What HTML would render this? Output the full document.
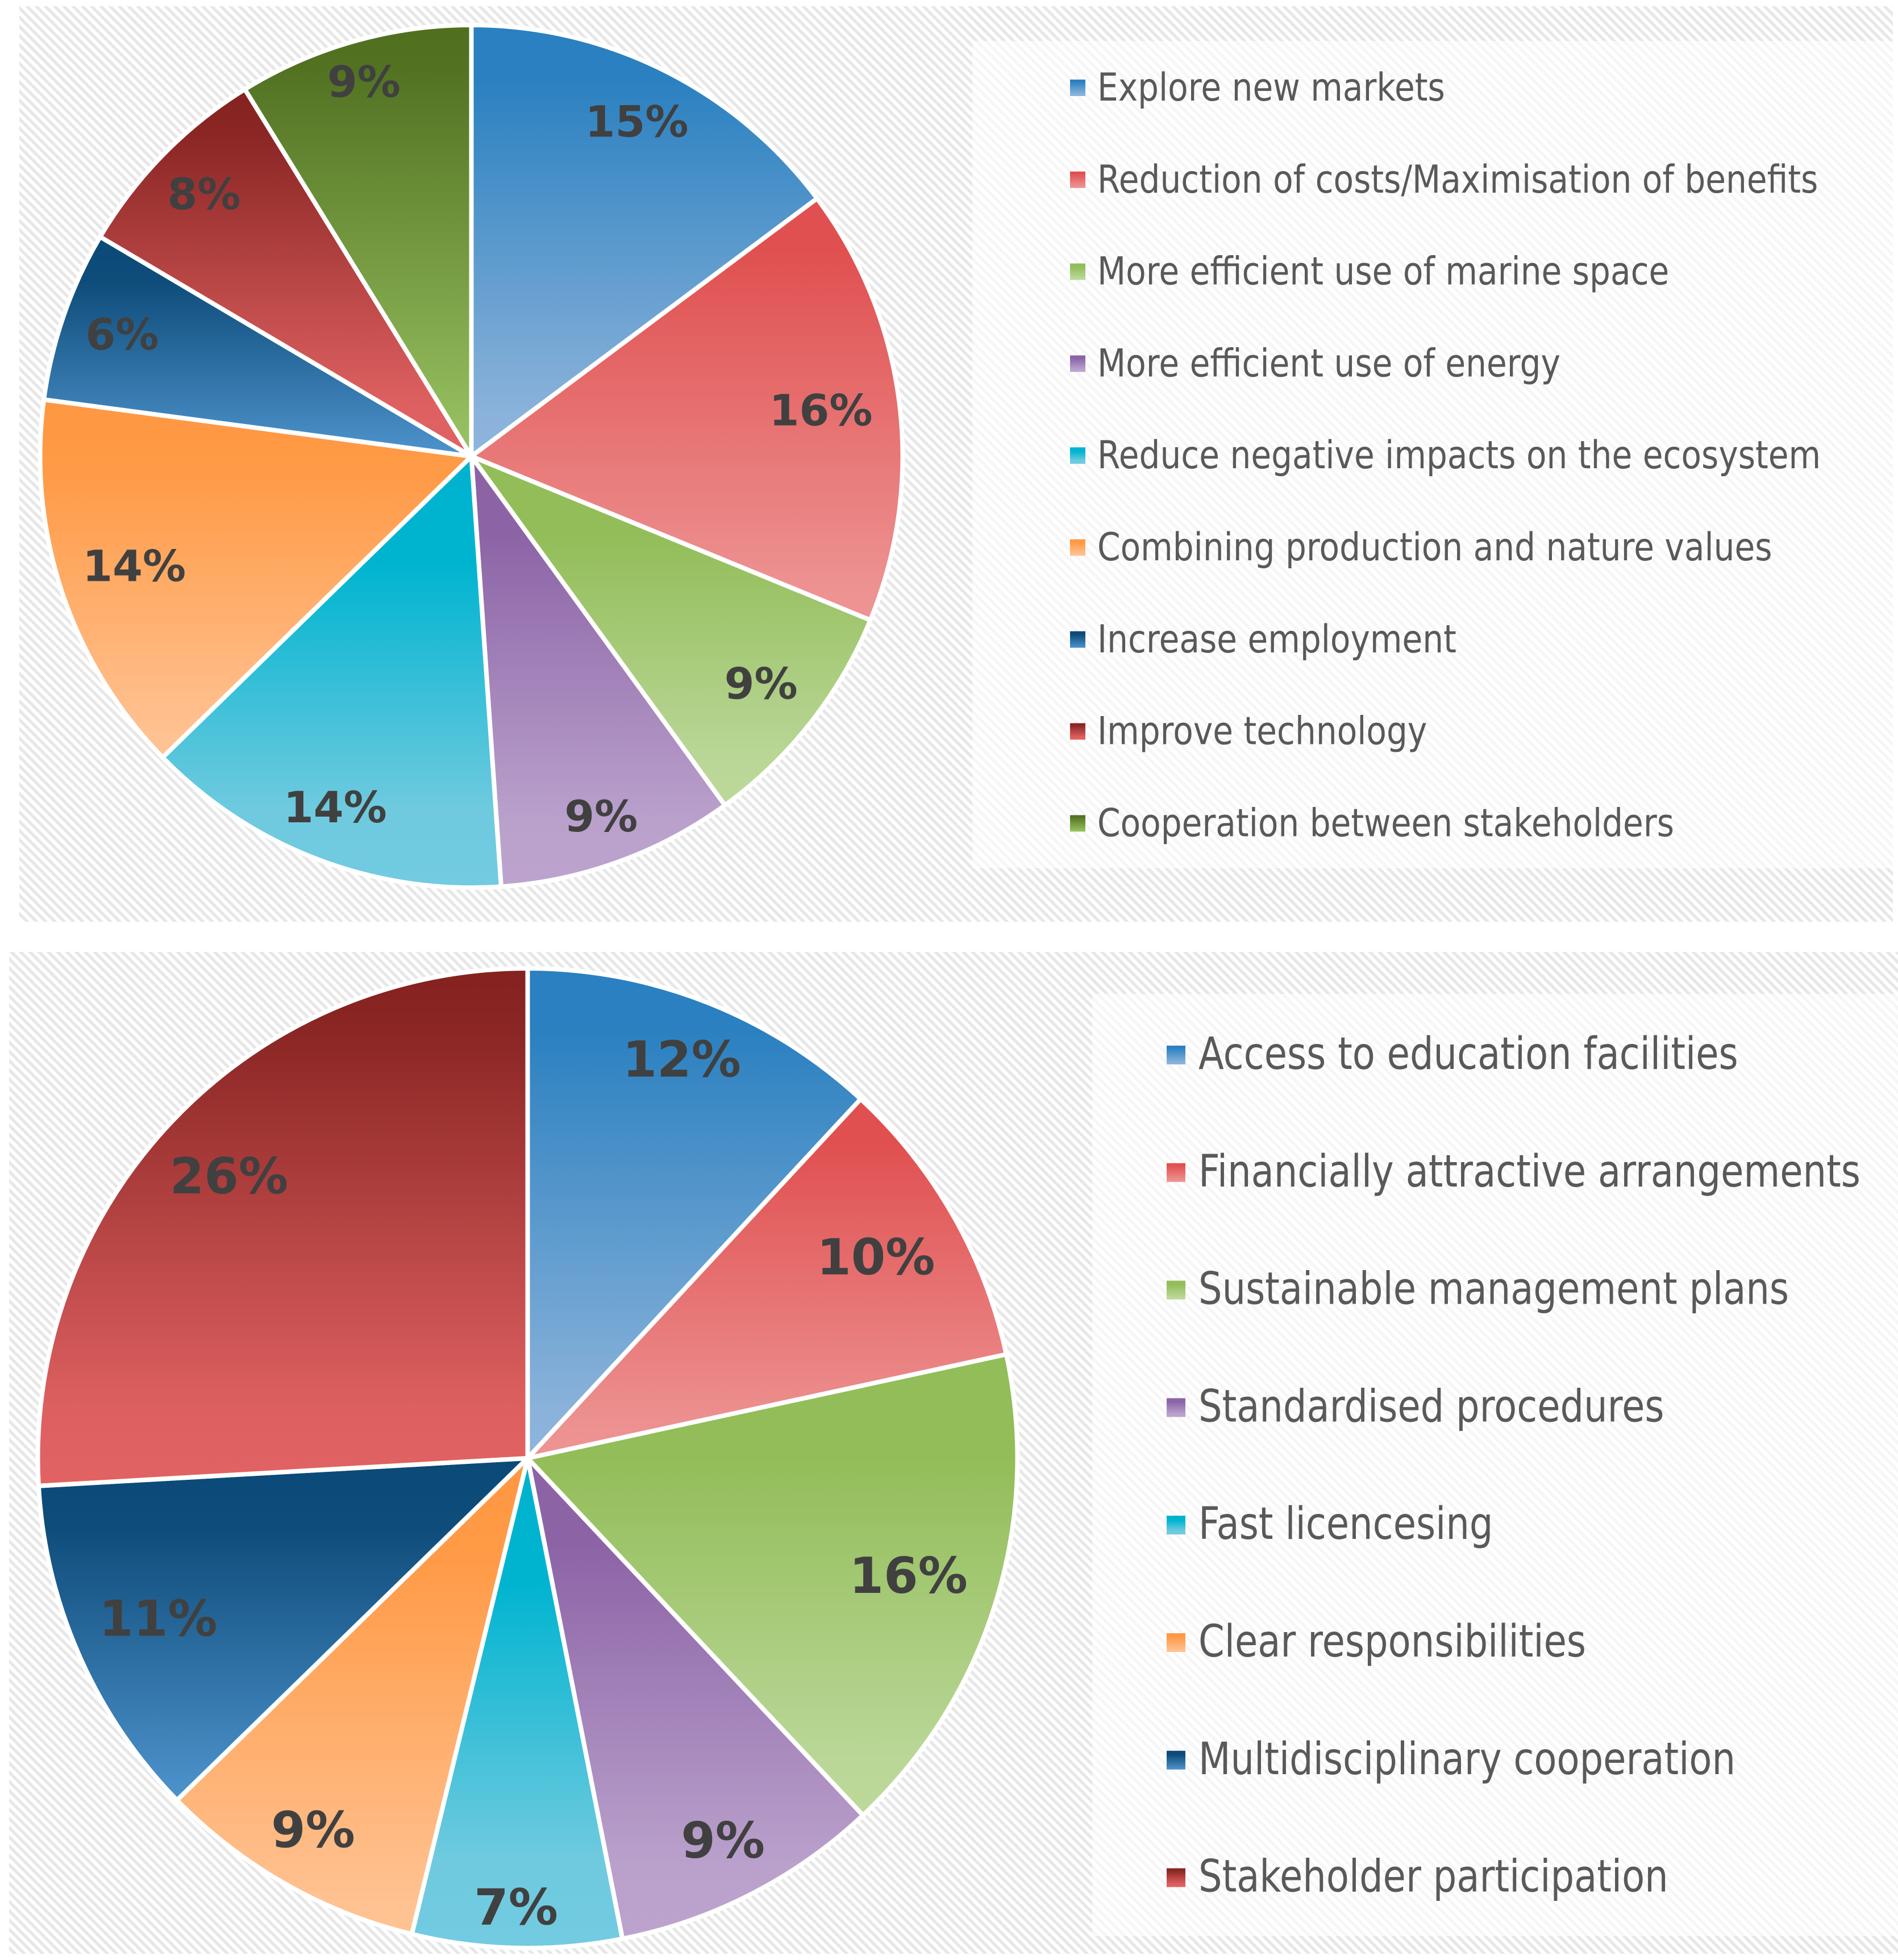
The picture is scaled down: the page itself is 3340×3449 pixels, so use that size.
<!DOCTYPE html>
<html lang="en">
<head>
<meta charset="utf-8">
<title>Pie charts</title>
<style>
html,body{margin:0;padding:0;background:#fff;width:3340px;height:3449px;overflow:hidden}
svg{display:block}
.legend-text{font-family:"DejaVu Sans","Liberation Sans",sans-serif;fill:#595959}
.value-label{font-family:"DejaVu Sans","Liberation Sans",sans-serif;font-weight:bold;fill:#404040}
</style>
</head>
<body>
<svg id="root" xmlns="http://www.w3.org/2000/svg" width="3340" height="3449" viewBox="0 0 3340 3449">
<defs>
<pattern id="hatch" patternUnits="userSpaceOnUse" width="11.5" height="11.5" patternTransform="rotate(-45)">
<rect width="11.5" height="11.5" fill="#ffffff"/>
<rect width="5.4" height="11.5" fill="#e7e7e7"/>
</pattern>
<linearGradient id="g0" x1="0" y1="0" x2="0" y2="1"><stop offset="0" stop-color="#2a80c0"/><stop offset=".12" stop-color="#2a80c0"/><stop offset=".9" stop-color="#8ab2da"/><stop offset="1" stop-color="#8cb4dc"/></linearGradient>
<linearGradient id="g1" x1="0" y1="0" x2="0" y2="1"><stop offset="0" stop-color="#e05050"/><stop offset=".12" stop-color="#e05050"/><stop offset=".9" stop-color="#ed9090"/><stop offset="1" stop-color="#ee9494"/></linearGradient>
<linearGradient id="g2" x1="0" y1="0" x2="0" y2="1"><stop offset="0" stop-color="#92bd58"/><stop offset=".22" stop-color="#92bd58"/><stop offset=".88" stop-color="#bad798"/><stop offset="1" stop-color="#bcd89a"/></linearGradient>
<linearGradient id="g3" x1="0" y1="0" x2="0" y2="1"><stop offset="0" stop-color="#8c64a6"/><stop offset=".18" stop-color="#8c64a6"/><stop offset=".85" stop-color="#baa1cc"/><stop offset="1" stop-color="#bca3cd"/></linearGradient>
<linearGradient id="g4" x1="0" y1="0" x2="0" y2="1"><stop offset="0" stop-color="#00b2ce"/><stop offset=".25" stop-color="#00b4d0"/><stop offset=".82" stop-color="#6fcadf"/><stop offset="1" stop-color="#72cbe0"/></linearGradient>
<linearGradient id="g5" x1="0" y1="0" x2="0" y2="1"><stop offset="0" stop-color="#ff9742"/><stop offset=".2" stop-color="#ff9a46"/><stop offset=".92" stop-color="#ffc190"/><stop offset="1" stop-color="#ffc494"/></linearGradient>
<linearGradient id="g6" x1="0" y1="0" x2="0" y2="1"><stop offset="0" stop-color="#0b4a78"/><stop offset=".2" stop-color="#0e4c7a"/><stop offset=".95" stop-color="#4a8fc8"/><stop offset="1" stop-color="#4e92cc"/></linearGradient>
<linearGradient id="g7" x1="0" y1="0" x2="0" y2="1"><stop offset="0" stop-color="#85211f"/><stop offset=".12" stop-color="#8a2624"/><stop offset=".85" stop-color="#dd6060"/><stop offset="1" stop-color="#e26262"/></linearGradient>
<linearGradient id="g8" x1="0" y1="0" x2="0" y2="1"><stop offset="0" stop-color="#507020"/><stop offset=".1" stop-color="#527222"/><stop offset=".95" stop-color="#96c060"/><stop offset="1" stop-color="#9ac462"/></linearGradient>
</defs>
<rect x="34" y="11" width="3297" height="1611" fill="url(#hatch)"/>
<rect x="1711" y="72" width="1620" height="1456" fill="#ffffff" fill-opacity="0.62"/>
<rect x="16" y="1675" width="3324" height="1763" fill="url(#hatch)"/>
<rect x="1922" y="1749" width="1418" height="1658" fill="#ffffff" fill-opacity="0.62"/>
<g id="top-chart"></g>
<g id="bottom-chart"></g>
</svg>
<script>
var topCategories = ["Explore new markets","Reduction of costs/Maximisation of benefits","More efficient use of marine space","More efficient use of energy","Reduce negative impacts on the ecosystem","Combining production and nature values","Increase employment","Improve technology","Cooperation between stakeholders"];
var topValues = [14.8,16.4,8.8,8.9,13.8,14.4,6.4,7.7,8.8];
var bottomCategories = ["Access to education facilities","Financially attractive arrangements","Sustainable management plans","Standardised procedures","Fast licencesing","Clear responsibilities","Multidisciplinary cooperation","Stakeholder participation"];
var bottomValues = [11.9,9.7,16.4,8.9,6.9,8.9,11.4,25.9];

var NS = 'http://www.w3.org/2000/svg';

function slugify(s){
  return s.toLowerCase().replace(/[^a-z0-9]+/g,'-').replace(/^-|-$/g,'');
}

function drawPie(host, categories, values, o){
  var total = values.reduce(function(a,b){return a+b;},0);
  var angleOf = function(v){ return v/total*Math.PI*2; };
  var xOf = function(r,a){ return o.cx + r*Math.sin(a); };
  var yOf = function(r,a){ return o.cy - r*Math.cos(a); };
  var start = 0;
  var labels = [];
  values.forEach(function(v,i){
    var sweep = angleOf(v);
    var end = start + sweep;
    var path = document.createElementNS(NS,'path');
    
    
    path.setAttribute('d','M'+o.cx+' '+o.cy+'L'+xOf(o.r,start)+' '+yOf(o.r,start)+'A'+o.r+' '+o.r+' 0 '+(sweep>Math.PI?1:0)+' 1 '+xOf(o.r,end)+' '+yOf(o.r,end)+'Z');
    path.setAttribute('fill','url(#g'+i+')');
    path.setAttribute('stroke','#ffffff');
    path.setAttribute('stroke-width','8');
    path.setAttribute('stroke-linejoin','round');
    host.appendChild(path);
    labels.push({mid:start+sweep/2, text:Math.round(v/total*100)+'%', i:i});
    start = end;
  });
  labels.forEach(function(l){
    var t = document.createElementNS(NS,'text');
    
    
    t.setAttribute('class','value-label');
    t.setAttribute('font-size',o.labelSize);
    t.setAttribute('text-anchor','middle');
    t.textContent = l.text;
    host.appendChild(t);
    var hw = t.getComputedTextLength()/2 + o.labelExtraW, hh = o.labelSize*0.365;
    var limit = o.r - o.labelPad, d = limit, sx = Math.sin(l.mid), sy = -Math.cos(l.mid);
    while(d>0){
      var px = d*sx, py = d*sy;
      var far = Math.hypot(Math.abs(px)+hw, Math.abs(py)+hh);
      if(far<=limit) break;
      d -= 1;
    }
    t.setAttribute('x', o.cx + d*sx - 3);
    t.setAttribute('y', o.cy + d*sy + hh - 4);
  });
  categories.forEach(function(c,i){
    var baseline = o.legendY + i*o.legendStep;
    var sw = document.createElementNS(NS,'rect');
    
    
    sw.setAttribute('x',o.swatchX);
    sw.setAttribute('y',baseline-o.swatchUp);
    sw.setAttribute('width',o.swatchW);
    sw.setAttribute('height',o.swatchH);
    sw.setAttribute('fill','url(#g'+i+')');
    host.appendChild(sw);
    var t = document.createElementNS(NS,'text');
    
    
    t.setAttribute('class','legend-text');
    t.setAttribute('font-size',o.legendSize);
    t.setAttribute('transform','translate('+o.textX+' '+baseline+') scale('+o.textScale+' 1)');
    t.textContent = c;
    host.appendChild(t);
  });
}

drawPie(document.getElementById('top-chart'), topCategories, topValues, {
  cx:829.5, cy:803, r:759, labelSize:76, labelPad:24, labelExtraW:18,
  legendY:177, legendStep:161.8, legendSize:68,
  swatchX:1883, swatchUp:37, swatchW:27, swatchH:29, textX:1931, textScale:0.855
});
drawPie(document.getElementById('bottom-chart'), bottomCategories, bottomValues, {
  cx:928.5, cy:2566, r:862, labelSize:87, labelPad:30, labelExtraW:18,
  legendY:1881, legendStep:206.8, legendSize:78,
  swatchX:2053, swatchUp:41, swatchW:33, swatchH:33, textX:2109, textScale:0.84
});
</script>
</body>
</html>
